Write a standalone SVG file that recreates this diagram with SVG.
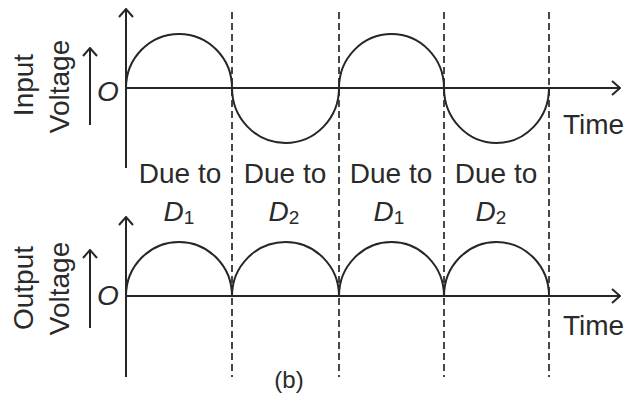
<svg xmlns="http://www.w3.org/2000/svg" width="628" height="402" viewBox="0 0 628 402">
<defs>
<style>
.ln{stroke:#262626;stroke-width:2;fill:none}
.dash{stroke:#333;stroke-width:1.8;fill:none;stroke-dasharray:7,4}
.wave{stroke:#262626;stroke-width:2;fill:none}
text{font-family:"Liberation Sans",Arial,sans-serif;font-size:28px;fill:#2a2a2a}
.it{font-style:italic}
.sub{font-size:19px}
</style>
<marker id="ah" viewBox="0 0 10 16" refX="9" refY="8" markerWidth="10" markerHeight="16" markerUnits="userSpaceOnUse" orient="auto">
<polyline points="1,1 9,8 1,15" fill="none" stroke="#262626" stroke-width="2"/>
</marker>
</defs>
<rect width="628" height="402" fill="#fff"/>
<g id="connectors">
<line class="ln" x1="126" y1="168" x2="126" y2="9" marker-end="url(#ah)"/>
<line class="ln" x1="126" y1="88" x2="620" y2="88" marker-end="url(#ah)"/>
<line class="ln" x1="126" y1="377" x2="126" y2="217" marker-end="url(#ah)"/>
<line class="ln" x1="126" y1="296" x2="620" y2="296" marker-end="url(#ah)"/>
<line class="ln" x1="90" y1="125" x2="90" y2="48" marker-end="url(#ah)"/>
<line class="ln" x1="90" y1="328" x2="90" y2="250" marker-end="url(#ah)"/>
<line class="dash" x1="232" y1="12" x2="232" y2="377"/>
<line class="dash" x1="339" y1="12" x2="339" y2="377"/>
<line class="dash" x1="444" y1="12" x2="444" y2="377"/>
<line class="dash" x1="549" y1="12" x2="549" y2="377"/>
</g>
<g id="input-wave">
<path class="wave" d="M126,88 A53,54 0 0 1 232,88 A53.5,55 0 0 0 339,88 A52.5,54 0 0 1 444,88 A52.5,55 0 0 0 549,88"/>
</g>
<g id="output-wave">
<path class="wave" d="M126,296 A53,54 0 0 1 232,296 A53.5,54 0 0 1 339,296 A52.5,54 0 0 1 444,296 A52.5,54 0 0 1 549,296"/>
</g>
<g id="input-label">
<text transform="translate(33,85) rotate(-90)" text-anchor="middle">Input</text>
<text transform="translate(69,86.5) rotate(-90)" text-anchor="middle">Voltage</text>
<text class="it" x="97" y="101">O</text>
</g>
<g id="output-label">
<text transform="translate(33,288) rotate(-90)" text-anchor="middle">Output</text>
<text transform="translate(69,288.5) rotate(-90)" text-anchor="middle">Voltage</text>
<text class="it" x="97" y="305">O</text>
</g>
<g id="time-labels">
<text x="563" y="134">Time</text>
<text x="563" y="335">Time</text>
</g>
<g id="due-labels">
<text x="180" y="183" text-anchor="middle">Due to</text>
<text x="285" y="183" text-anchor="middle">Due to</text>
<text x="391" y="183" text-anchor="middle">Due to</text>
<text x="496" y="183" text-anchor="middle">Due to</text>
<text x="179" y="221" text-anchor="middle"><tspan class="it">D</tspan><tspan class="sub" dy="3">1</tspan></text>
<text x="284" y="221" text-anchor="middle"><tspan class="it">D</tspan><tspan class="sub" dy="3">2</tspan></text>
<text x="389" y="221" text-anchor="middle"><tspan class="it">D</tspan><tspan class="sub" dy="3">1</tspan></text>
<text x="491" y="221" text-anchor="middle"><tspan class="it">D</tspan><tspan class="sub" dy="3">2</tspan></text>
</g>
<g id="caption">
<text x="289" y="388" text-anchor="middle" style="font-size:24px">(b)</text>
</g>
</svg>
